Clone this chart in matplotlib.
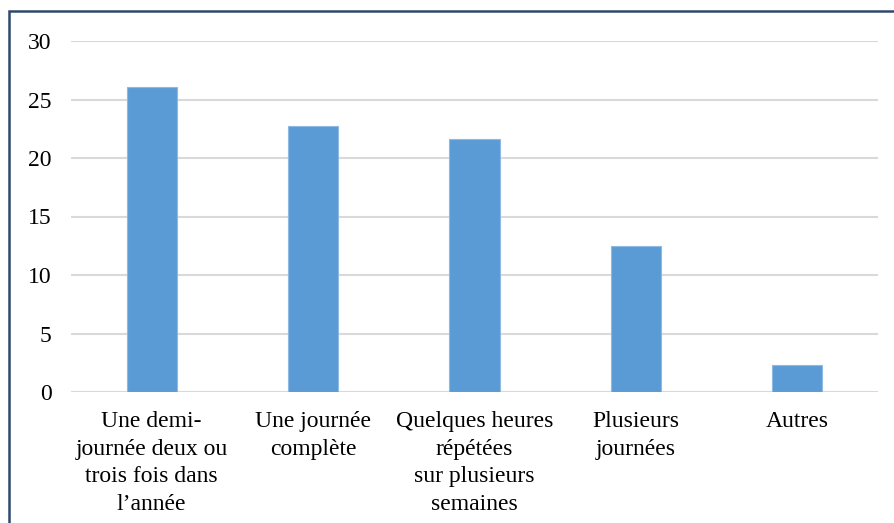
import matplotlib
matplotlib.use("Agg")
import matplotlib.pyplot as plt
from matplotlib.patches import Rectangle

categories = ["Une demi-\njournée deux ou\ntrois fois dans\nl\u2019année",
              "Une journée\ncomplète",
              "Quelques heures\nrépétées\nsur plusieurs\nsemaines",
              "Plusieurs\njournées",
              "Autres"]
values = [26.1, 22.7, 21.6, 12.5, 2.3]
yticks = [0, 5, 10, 15, 20, 25, 30]

plt.rcParams['font.family'] = ['Liberation Serif', 'DejaVu Serif']

fig = plt.figure(figsize=(8.95, 5.23), dpi=100)
ax = fig.add_axes([71/895, 1-392/523, (878-71)/895, (392-41)/523])

x = list(range(len(categories)))
ax.bar(x, values, width=0.31, color="#5B9BD5", edgecolor="#8DB9E3", linewidth=0.8, zorder=3)
ax.set_xlim(-0.5, len(categories)-0.5)
ax.set_ylim(0, 30)
ax.set_yticks(yticks)
ax.set_yticklabels([str(v) for v in yticks])
ax.set_xticks(x)
ax.set_xticklabels(categories, linespacing=1.4)
ax.tick_params(axis='both', length=0, labelsize=17, colors="black")
ax.tick_params(axis='y', pad=14)
ax.tick_params(axis='x', pad=14)
ax.grid(axis='y', color="#D9D9D9", linewidth=1.5, zorder=0)
for s in ax.spines.values():
    s.set_visible(False)

fig.patches.append(Rectangle((9.5/895, -0.1), 1.2, 1.1 - 11.5/523,
                             transform=fig.transFigure, fill=False,
                             edgecolor="#2E4A6A", linewidth=1.8))

fig.savefig("out.png", dpi=100)
